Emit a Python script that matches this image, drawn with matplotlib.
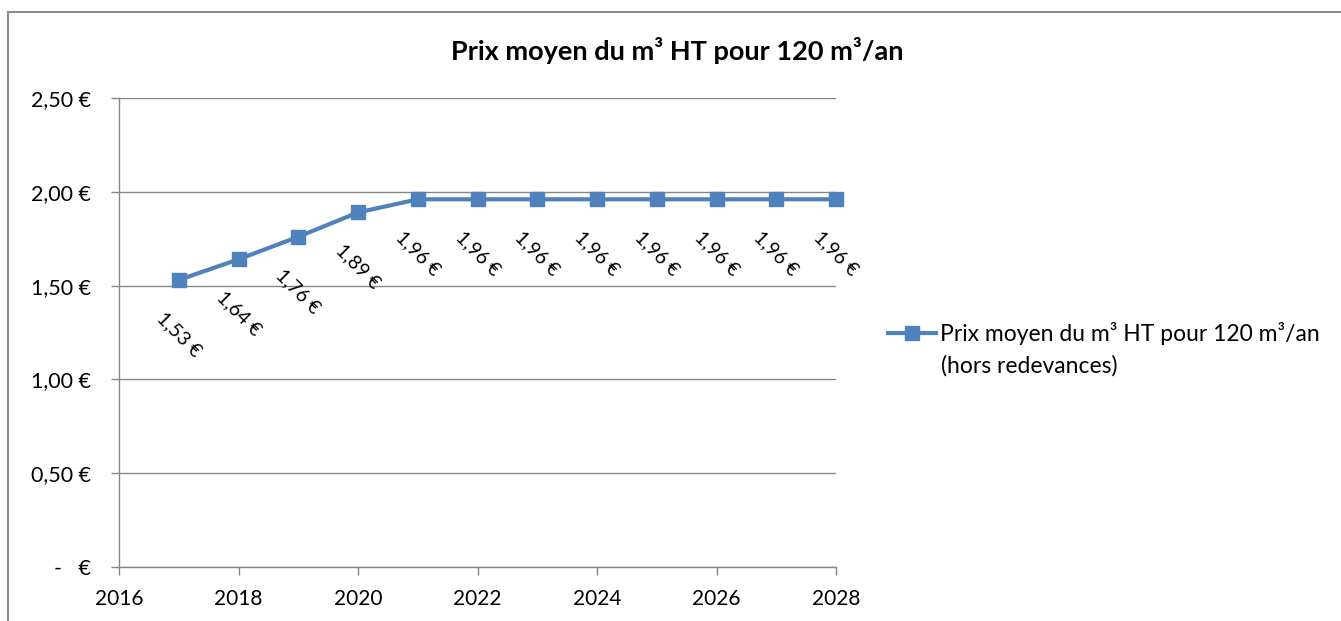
import matplotlib
matplotlib.use('agg')
import matplotlib.pyplot as plt
from matplotlib.lines import Line2D

# data
years = [2017, 2018, 2019, 2020, 2021, 2022, 2023, 2024, 2025, 2026, 2027, 2028]
prix = [1.53, 1.64, 1.76, 1.89, 1.96, 1.96, 1.96, 1.96, 1.96, 1.96, 1.96, 1.96]
yticks = [0.0, 0.5, 1.0, 1.5, 2.0, 2.5]
ylabels = ["-   €", "0,50 €", "1,00 €", "1,50 €", "2,00 €", "2,50 €"]
xticks = [2016, 2018, 2020, 2022, 2024, 2026, 2028]
title = "Prix moyen du m³ HT pour 120 m³/an"
serie = "Prix moyen du m³ HT pour 120 m³/an"
serie2 = "(hors redevances)"

blue = "#4F81BD"
grey = "#868686"

plt.rcParams['font.family'] = ['Lato', 'DejaVu Sans']

W, H = 1341, 621
fig = plt.figure(figsize=(W / 100.0, H / 100.0), dpi=100)
ax = fig.add_axes([119.0 / W, 1 - 567.0 / H, (836 - 119.0) / W, (567 - 98.0) / H])

ax.plot(years, prix, "-", color=blue, lw=3, marker="s", ms=10,
        mec=blue, mfc=blue, clip_on=False, zorder=3)

for x, v in zip(years, prix):
    ax.annotate("{0:.2f} €".format(v).replace(".", ","), (x, v),
                xytext=(0, -39), textcoords="offset points",
                ha="center", va="center", rotation=-45, fontsize=14)

ax.set_xlim(2016, 2028)
ax.set_ylim(0, 2.5)
ax.set_xticks(xticks)
ax.set_xticklabels([str(x) for x in xticks], fontsize=15)
ax.set_yticks(yticks)
ax.set_yticklabels(ylabels, fontsize=15.5)
ax.tick_params(axis="y", length=6, width=1, color=grey, pad=14)
ax.tick_params(axis="x", length=6, width=1, color=grey, pad=10, direction="out")
ax.grid(axis="y", color=grey, lw=1)
ax.set_axisbelow(True)
for s in ["top", "right"]:
    ax.spines[s].set_visible(False)
for s in ["left", "bottom"]:
    ax.spines[s].set_color(grey)
    ax.spines[s].set_linewidth(1)

fig.text(677.0 / W, 1 - 50.0 / H, title, ha="center", va="center",
         fontsize=19.5, fontweight="bold")

# legende
h = Line2D([], [], color=blue, lw=3, marker="s", ms=10)
leg = fig.legend([h], [serie], loc="center left",
                 bbox_to_anchor=(888.0 / W, 1 - 334.0 / H),
                 frameon=False, fontsize=16.5, handlelength=2.1,
                 handletextpad=0.15, borderaxespad=0, borderpad=0)
fig.text(941.0 / W, 1 - 366.0 / H, serie2, ha="left", va="center", fontsize=16.5)

# cadre
fig.add_artist(Line2D([8.0 / W, 1.0], [1 - 12.0 / H, 1 - 12.0 / H], color="#8c8c8c", lw=1.5))
fig.add_artist(Line2D([8.0 / W, 8.0 / W], [0, 1 - 12.0 / H], color="#8c8c8c", lw=1.5))

fig.savefig("out.png", dpi=100)
